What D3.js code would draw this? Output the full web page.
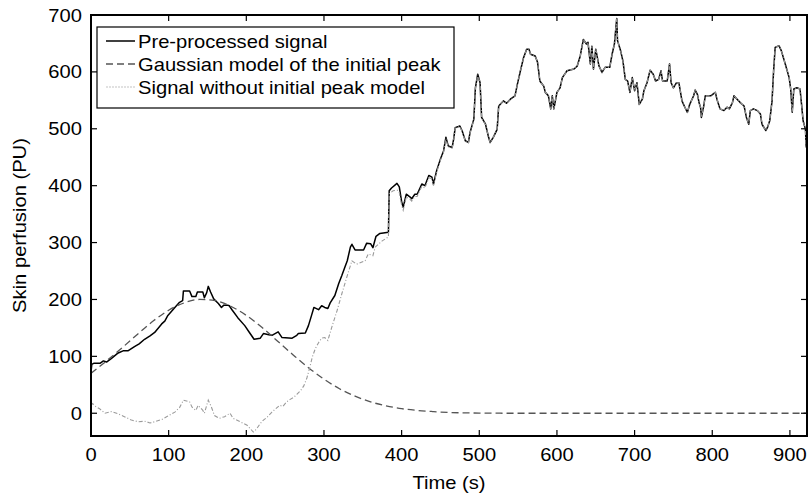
<!DOCTYPE html>
<html><head><meta charset="utf-8">
<script src="https://cdn.jsdelivr.net/npm/d3@7"></script>
<style>body{margin:0;background:#fff}svg{display:block}</style>
</head><body>
<script>
// ---- data (time in s, perfusion in PU) ----
const xTicks = [0,100,200,300,400,500,600,700,800,900];
const yTicks = [0,100,200,300,400,500,600,700];
const legendLabels = ["Pre-processed signal","Gaussian model of the initial peak","Signal without initial peak model"];

const signal = [[0,72],[1,86],[4,88],[12,88],[16,92],[20,90],[26,96],[35,106],[42,110],[48,110],[56,117],[62,122],[69,130],[76,136],[82,142],[91,157],[95,162],[99,172],[108,186],[114,195],[118,198],[119,215],[127,215],[130,205],[135,205],[137,213],[144,213],[146,203],[149,212],[151,223],[154,213],[158,201],[164,193],[168,186],[171,190],[176,190],[178,189],[182,181],[189,168],[198,154],[204,142],[210,130],[218,132],[222,140],[229,138],[233,137],[241,143],[246,133],[259,132],[265,137],[267,140],[276,141],[280,154],[284,172],[287,186],[293,182],[297,189],[301,186],[305,184],[308,194],[314,207],[319,228],[323,242],[327,257],[330,268],[334,292],[336,297],[340,287],[351,287],[355,299],[360,298],[363,291],[367,311],[372,316],[383,318],[384,391],[387,396],[394,404],[397,398],[400,372],[402,362],[406,385],[411,380],[413,377],[417,385],[420,385],[426,403],[430,400],[435,418],[439,415],[441,403],[445,426],[450,447],[454,461],[457,485],[460,470],[465,467],[467,482],[469,502],[475,505],[478,496],[482,479],[486,476],[488,493],[493,517],[495,572],[498,596],[501,581],[503,520],[508,508],[512,485],[514,476],[518,485],[523,499],[525,540],[531,549],[535,545],[540,552],[546,558],[549,578],[553,602],[557,625],[561,640],[564,640],[566,631],[572,628],[575,617],[578,584],[583,575],[585,564],[589,558],[592,535],[594,558],[596,535],[600,564],[604,572],[607,590],[613,602],[622,605],[626,610],[630,628],[634,657],[638,649],[640,652],[643,614],[645,645],[647,605],[650,640],[654,611],[658,599],[662,608],[668,608],[671,631],[674,649],[677,694],[678,655],[682,637],[685,619],[688,587],[691,584],[694,564],[697,590],[700,567],[703,581],[706,543],[710,552],[712,567],[716,581],[720,603],[724,596],[727,584],[731,587],[734,602],[736,584],[742,584],[745,614],[747,581],[750,572],[754,581],[757,581],[761,549],[765,537],[768,529],[771,543],[776,558],[778,568],[781,560],[783,546],[785,537],[786,520],[789,540],[791,558],[798,558],[804,564],[806,552],[810,535],[815,532],[819,538],[822,535],[826,546],[828,558],[832,552],[836,546],[841,540],[844,520],[847,508],[849,532],[853,535],[858,532],[862,526],[864,508],[869,497],[871,502],[874,514],[877,549],[879,602],[881,643],[886,646],[889,637],[894,614],[899,590],[901,570],[903,529],[905,570],[909,572],[913,570],[915,543],[917,514],[920,499],[921,467]];

const gaussian = [[0,70],[20,92],[40,115],[60,139],[80,162],[100,181],[120,194],[140,200],[160,198],[180,188],[200,172],[220,151],[240,127],[260,103],[280,80],[300,60],[320,43],[340,30],[360,20],[380,13],[400,8],[420,5],[440,3],[460,1.4],[480,0.7],[500,0.3],[520,0.1],[540,0],[600,0],[700,0],[800,0],[922,0]];

const residual = [[0,14],[2,17],[6,12],[11,8],[18,0],[26,3],[35,-1],[43,-6],[52,-12],[61,-15],[69,-14],[76,-17],[82,-15],[91,-11],[99,-5],[108,2],[114,10],[119,23],[127,20],[130,11],[135,5],[138,14],[144,5],[146,0],[151,23],[155,11],[159,-4],[165,-9],[172,-6],[179,0],[183,-9],[192,-15],[201,-21],[205,-27],[209,-33],[213,-28],[218,-18],[222,-12],[226,-8],[233,2],[238,8],[243,14],[247,12],[252,20],[256,24],[261,28],[265,33],[270,40],[274,48],[278,62],[282,82],[285,99],[289,114],[293,124],[297,132],[301,133],[305,128],[310,151],[317,181],[323,210],[330,242],[336,268],[342,262],[353,268],[357,280],[363,277],[366,292],[375,303],[383,310],[384,386],[389,391],[395,392],[397,388],[400,366],[402,357],[406,380],[411,376],[413,373],[417,381],[420,381],[426,399],[430,396],[435,414],[439,412],[441,400],[445,423],[450,445],[454,459],[457,483],[460,468],[465,466],[467,481],[469,501],[475,504],[478,495],[482,478],[486,475],[488,492],[493,516],[495,571],[498,595],[501,580],[503,519],[508,507],[512,485],[514,476],[518,485],[523,499],[525,540],[531,549],[535,545],[540,552],[546,558],[549,578],[553,602],[557,625],[561,640],[564,640],[566,631],[572,628],[575,617],[578,584],[583,575],[585,564],[589,558],[592,535],[594,558],[596,535],[600,564],[604,572],[607,590],[613,602],[622,605],[626,610],[630,628],[634,657],[638,649],[640,652],[643,614],[645,645],[647,605],[650,640],[654,611],[658,599],[662,608],[668,608],[671,631],[674,649],[677,694],[678,655],[682,637],[685,619],[688,587],[691,584],[694,564],[697,590],[700,567],[703,581],[706,543],[710,552],[712,567],[716,581],[720,603],[724,596],[727,584],[731,587],[734,602],[736,584],[742,584],[745,614],[747,581],[750,572],[754,581],[757,581],[761,549],[765,537],[768,529],[771,543],[776,558],[778,568],[781,560],[783,546],[785,537],[786,520],[789,540],[791,558],[798,558],[804,564],[806,552],[810,535],[815,532],[819,538],[822,535],[826,546],[828,558],[832,552],[836,546],[841,540],[844,520],[847,508],[849,532],[853,535],[858,532],[862,526],[864,508],[869,497],[871,502],[874,514],[877,549],[879,602],[881,643],[886,646],[889,637],[894,614],[899,590],[901,570],[903,529],[905,570],[909,572],[913,570],[915,543],[917,514],[920,499],[921,467]];

// ---- layout ----
const W = 808, H = 500;
const L = 91, R = 807, T = 15, B = 436;
const FONT = "'Liberation Sans', Arial, Helvetica, sans-serif";
const FS = 18, SX = 1.12;

const x = d3.scaleLinear().domain([0, 922]).range([L, R]);
const y = d3.scaleLinear().domain([-40, 700]).range([B, T]);

const svg = d3.select("body").append("svg").attr("width", W).attr("height", H);

function txt(g, px, py, s, anchor, rot) {
  const t = g.append("g").attr("transform", `translate(${px},${py})` + (rot ? ` rotate(${rot})` : "") + ` scale(${SX},1)`)
    .append("text").attr("font-family", FONT).attr("font-size", FS).attr("fill", "#000")
    .attr("text-anchor", anchor).text(s);
  return t;
}

svg.append("defs").append("clipPath").attr("id", "clip")
  .append("rect").attr("x", L).attr("y", T).attr("width", R - L).attr("height", B - T);

const plot = svg.append("g").attr("clip-path", "url(#clip)");
const line = d3.line().x(d => x(d[0])).y(d => y(d[1]));

plot.append("path").datum(signal).attr("d", line)
  .attr("fill", "none").attr("stroke", "#000").attr("stroke-width", 1.5).attr("stroke-linejoin", "round");
plot.append("path").datum(gaussian).attr("d", line.curve(d3.curveMonotoneX))
  .attr("fill", "none").attr("stroke", "#555").attr("stroke-width", 1.3).attr("stroke-dasharray", "7,4");
line.curve(d3.curveLinear);
plot.append("path").datum(residual).attr("d", line)
  .attr("fill", "none").attr("stroke", "#9a9a9a").attr("stroke-width", 1.1).attr("stroke-dasharray", "4,2,1,2");

// ---- axes (box with inward ticks on all sides) ----
const ax = svg.append("g");
const tl = 6;
xTicks.forEach(v => {
  ax.append("line").attr("x1", x(v)).attr("x2", x(v)).attr("y1", B).attr("y2", B - tl).attr("stroke", "#000").attr("stroke-width", 1.2);
  ax.append("line").attr("x1", x(v)).attr("x2", x(v)).attr("y1", T).attr("y2", T + tl).attr("stroke", "#000").attr("stroke-width", 1.2);
  txt(ax, x(v), 461, String(v), "middle");
});
yTicks.forEach(v => {
  ax.append("line").attr("x1", L).attr("x2", L + tl).attr("y1", y(v)).attr("y2", y(v)).attr("stroke", "#000").attr("stroke-width", 1.2);
  ax.append("line").attr("x1", R).attr("x2", R - tl).attr("y1", y(v)).attr("y2", y(v)).attr("stroke", "#000").attr("stroke-width", 1.2);
  txt(ax, 82, y(v) + 6.5, String(v), "end");
});
ax.append("rect").attr("x", L).attr("y", T).attr("width", R - L).attr("height", B - T)
  .attr("fill", "none").attr("stroke", "#000").attr("stroke-width", 2);

txt(svg, (L + R) / 2, 489, "Time (s)", "middle");
txt(svg, 26, (T + B) / 2, "Skin perfusion (PU)", "middle", -90);

// ---- legend ----
const lg = svg.append("g");
lg.append("rect").attr("x", 97).attr("y", 27).attr("width", 357).attr("height", 81)
  .attr("fill", "#fff").attr("stroke", "#000").attr("stroke-width", 1.2);
const styles = [
  {stroke: "#000", w: 1.5, dash: null},
  {stroke: "#555", w: 1.3, dash: "7,4"},
  {stroke: "#c4c4c4", w: 1.1, dash: "2,1"}
];
legendLabels.forEach((s, i) => {
  const cy = 41 + i * 23;
  lg.append("line").attr("x1", 106).attr("x2", 135).attr("y1", cy).attr("y2", cy)
    .attr("stroke", styles[i].stroke).attr("stroke-width", styles[i].w).attr("stroke-dasharray", styles[i].dash);
  txt(lg, 138, cy + 6.5, s, "start");
});
</script>
</body></html>
